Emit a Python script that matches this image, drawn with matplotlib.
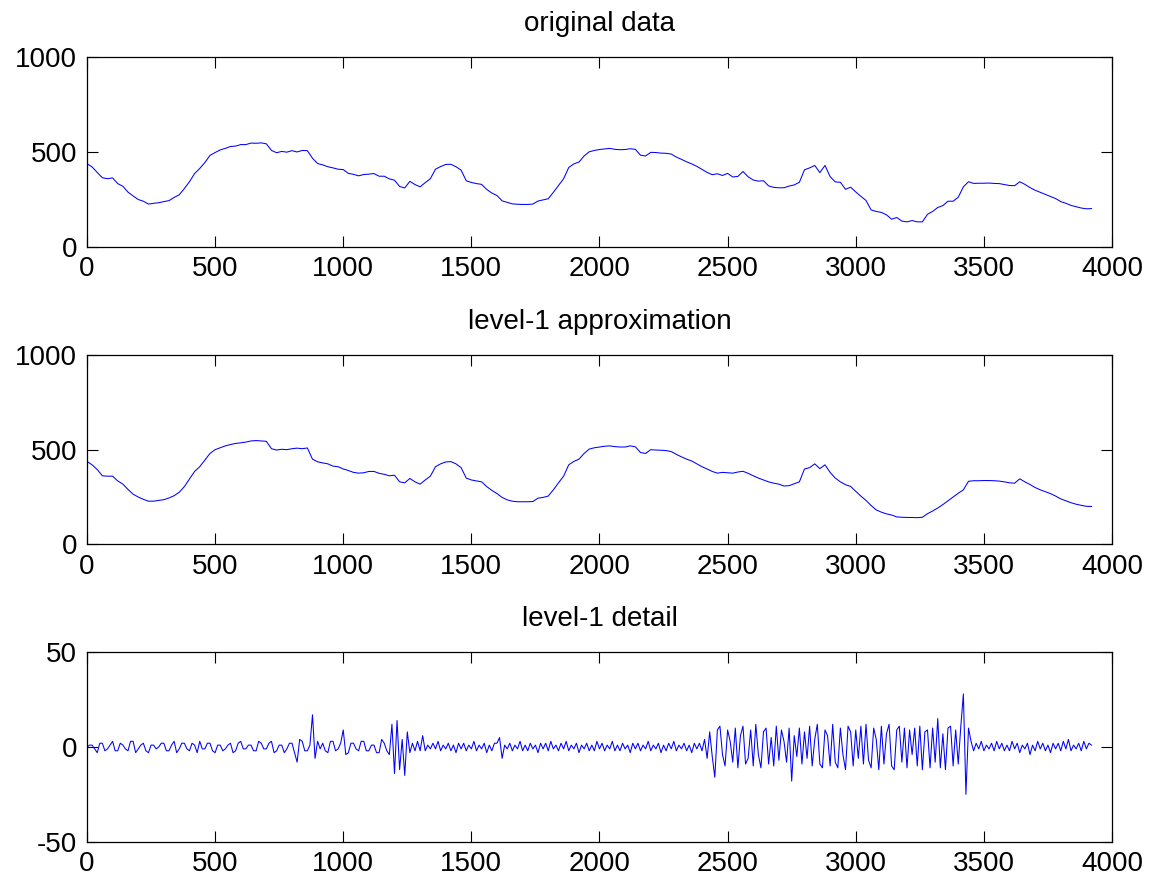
import numpy as np
import matplotlib.pyplot as plt

plt.rcParams['font.family'] = ['Liberation Sans', 'DejaVu Sans']
plt.rcParams['axes.unicode_minus'] = False

# sample positions of the approximation (every 20th sample)
samples = np.arange(0, 3921, 20)
# sample positions of the detail (every 10th sample)
samples_d = np.arange(0, 3921, 10)

# level-1 approximation
approx = [
    438, 420, 395, 362, 360, 360, 335, 318, 290, 265, 250, 238, 228, 228, 232, 236, 245, 257, 275, 305,
    345, 385, 410, 445, 480, 500, 510, 520, 527, 533, 536, 540, 546, 548, 546, 544, 505, 498, 502, 500,
    505, 508, 505, 509, 450, 436, 430, 425, 413, 410, 398, 390, 380, 376, 378, 385, 385, 375, 370, 362,
    365, 330, 325, 348, 330, 318, 340, 360, 410, 425, 435, 437, 425, 405, 350, 340, 335, 330, 305, 285,
    268, 248, 235, 228, 225, 225, 225, 226, 244, 248, 255, 288, 325, 360, 420, 438, 450, 480, 503, 510,
    514, 518, 520, 516, 514, 514, 520, 515, 485, 480, 500, 498, 497, 495, 490, 475, 462, 450, 440, 425,
    410, 398, 385, 376, 380, 378, 376, 382, 386, 375, 362, 350, 340, 330, 323, 318, 308, 310, 320, 330,
    398, 405, 425, 400, 420, 380, 350, 330, 315, 306, 280, 255, 232, 205, 182, 170, 161, 155, 145, 143,
    142, 142, 141, 143, 162, 176, 192, 210, 230, 250, 270, 288, 333, 336, 336, 337, 337, 336, 334, 330,
    325, 323, 346, 330, 316, 300, 288, 278, 268, 255, 240, 230, 220, 212, 206, 201, 200,
]

# level-1 detail (one row = 400 samples)
detail = [
    0, 1, 1, -1, -3, 2, 2, -2, -1, 1, 3, -2, -2, 2, 1, -1, -2, 3, 3, -3,
    -1, 1, 2, -2, -3, 1, 1, -1, 0, 2, 2, -2, -2, 1, 3, -3, -1, 2, 2, -1,
    -2, 2, 1, -3, 3, -1, -1, 2, 2, -2, -3, 1, 1, -2, -1, 1, 2, -3, -2, 2,
    3, -1, -1, 1, 1, -2, -2, 3, 2, -1, -1, 2, 3, -3, -2, 1, 1, -3, -1, 2,
    2, -3, -8, 4, 3, -2, -2, 1, 17, -6, 3, -1, 2, -2, -3, 3, 3, -2, -1, 2,
    9, -4, -3, 2, 2, -1, -2, 3, 3, -2, -2, 1, 1, -3, -3, 4, 2, -2, -4, 12,
    -14, 14, -12, 4, -15, 8, -3, 2, -2, 3, -2, 6, -2, 1, -1, 2, -1, 3, -2, 1,
    -1, 2, -2, 1, -3, 2, -1, 2, -2, 1, -1, 3, -2, 1, -1, 2, -3, 1, -2, 2,
    2, 5, -6, 1, -1, 2, -2, 1, -1, 3, -2, 1, -2, 2, -1, 1, -3, 2, -1, 2,
    -2, 3, -1, 1, -2, 2, -1, 3, -2, 1, -1, 2, -3, 1, -1, 2, -2, 1, -2, 3,
    -1, 2, -2, 1, -1, 3, -2, 1, -2, 2, -1, 1, -3, 2, -1, 2, -2, 1, -1, 3,
    -2, 1, -1, 2, -3, 1, -2, 2, -1, 3, -2, 1, -1, 2, -2, 1, -3, 2, -1, 2,
    -2, 4, -6, 8, -5, -16, 9, 11, -4, -10, 9, 3, -8, 10, -11, 6, 11, -9, -6, 9,
    -10, 12, -4, -11, 8, 10, -9, 5, -10, 11, -7, 9, 3, -8, 10, -18, 6, -5, 10, -9,
    8, -6, 11, -10, 4, 12, -9, -11, 9, 6, -10, 12, -8, -11, 10, -4, -12, 11, 8, -10,
    9, -6, 11, -9, 12, -7, -11, 10, 4, -12, 11, -9, 7, 12, -10, -12, 9, 11, -8, 10,
    -11, 9, -4, 10, -10, 11, -12, 8, 9, -11, 10, -8, 15, -11, 7, -12, 10, 11, -10, 9,
    -9, 11, 28, -25, 10, 3, -2, 2, -1, 3, -2, 1, -1, 2, -2, 3, -1, 2, -2, 1,
    -2, 3, -1, 2, -3, 1, -1, 2, -4, 1, -2, 3, -1, 2, -2, 1, -3, 2, -1, 2,
    -2, 3, -1, 4, -2, 1, -1, 2, -2, 3, -1, 2, 1,
]

# signal = A1 + D1
original = np.array(approx) + np.array(detail[::2])

titles = ['original data', 'level-1 approximation', 'level-1 detail']
xs = [samples, samples, samples_d]
series = [original, approx, detail]
ylims = [(0, 1000), (0, 1000), (-50, 50)]
yticks = [[0, 500, 1000], [0, 500, 1000], [-50, 0, 50]]
bottoms = [0.7200, 0.3821, 0.0446]

fig = plt.figure(figsize=(11.49, 8.81), dpi=100)
for i in range(3):
    ax = fig.add_axes([0.0757, bottoms[i], 0.8921, 0.2150])
    ax.plot(xs[i], series[i], color='blue', linewidth=0.75)
    ax.set_xlim(0, 4000)
    ax.set_ylim(*ylims[i])
    ax.set_xticks(np.arange(0, 4001, 500))
    ax.set_yticks(yticks[i])
    ax.tick_params(direction='in', length=8, width=0.8, top=True, right=True,
                   labelsize=20, pad=7)
    for s in ax.spines.values():
        s.set_linewidth(0.9)
    ax.set_title(titles[i], fontsize=20, pad=19)

plt.savefig('out.png', dpi=100)
